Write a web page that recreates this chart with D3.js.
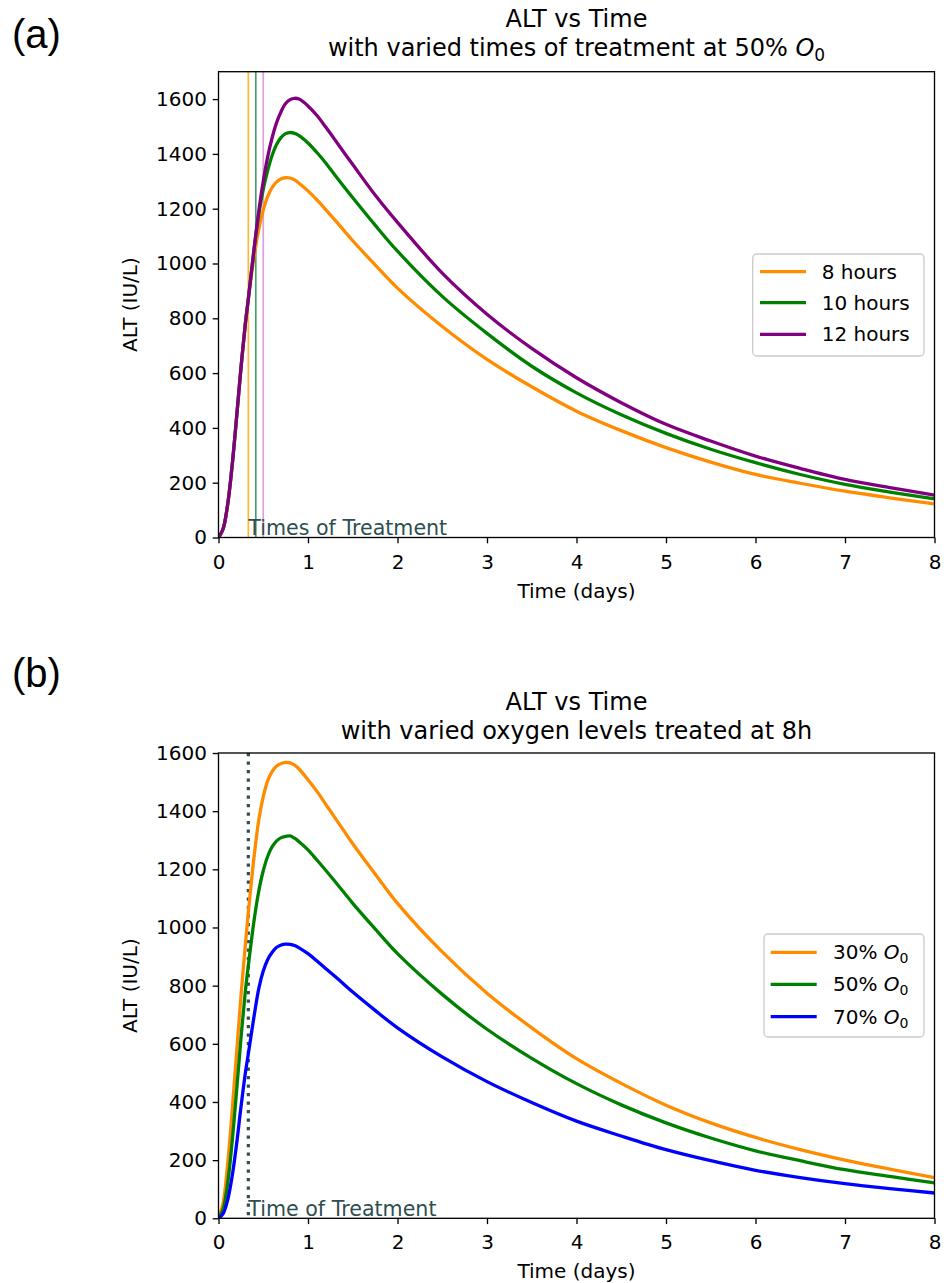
<!DOCTYPE html>
<html><head><meta charset="utf-8">
<script src="https://cdn.jsdelivr.net/npm/d3@7"></script>
<style>
body{margin:0;background:#fff}
svg{display:block;background:#fff}
text{font-family:"DejaVu Sans",sans-serif;fill:#000}
</style>
</head><body>
<svg id="chart" width="949" height="1283"></svg>
<script>
// ---------- data ----------
const times = [0,0.05,0.1,0.15,0.2,0.25,0.3,0.333,0.4,0.45,0.5,0.55,0.6,0.65,0.7,0.75,0.8,0.85,0.9,1.0,1.1,1.2,1.3,1.4,1.5,1.75,2,2.5,3,3.5,4,4.5,5,5.5,6,6.5,7,7.5,8];
const xTicks = [0,1,2,3,4,5,6,7,8];
const yTicks = [0,200,400,600,800,1000,1200,1400,1600];

// panel (a): treatment at 8, 10, 12 hours, 50% O0
const alt8h  = [0,30,115,255,430,615,780,870,1030,1125,1195,1245,1278,1298,1309,1313,1312,1305,1293,1265,1232,1196,1159,1121,1083,995,910,770,650,550,461,390,328,275,230,198,169,145,123];
const alt10h = [0,30,115,255,430,615,780,870,1060,1180,1270,1340,1395,1435,1460,1474,1478,1475,1467,1440,1405,1366,1323,1281,1240,1140,1045,880,745,625,528,448,380,322,273,230,194,166,141];
const alt12h = [0,30,115,255,430,615,780,870,1060,1190,1300,1390,1460,1515,1555,1584,1598,1603,1600,1575,1540,1497,1452,1406,1361,1250,1150,965,815,690,583,492,413,352,297,252,212,182,155];

// panel (b): treated at 8h, oxygen 30/50/70%
const alt30 = [0,50,180,360,560,760,940,1050,1250,1370,1450,1505,1537,1555,1564,1568,1566,1558,1545,1508,1468,1423,1378,1333,1288,1184,1083,916,774,655,549,464,389,328,278,236,200,169,140];
const alt50 = [0,30,115,255,430,615,780,868,1030,1125,1195,1245,1278,1298,1309,1313,1315,1307,1295,1267,1232,1196,1159,1121,1083,995,910,770,650,550,463,390,328,276,232,198,167,144,122];
const alt70 = [0,15,60,140,250,380,500,565,700,790,850,890,915,932,940,943,942,938,930,910,885,858,832,805,778,715,655,555,470,398,334,283,236,198,165,140,119,102,87];

const treatTimesA = [8/24, 10/24, 12/24];
const treatTimeB = 8/24;
const labelsA = ["8 hours","10 hours","12 hours"];
const labelsB = ["30%","50%","70%"];

// ---------- drawing ----------
const svg = d3.select("#chart");
const L = 218.5, R = 934.5;
const FS = 20, TFS = 24, AFS = 20.6;

function drawPanel(cfg){
  const x = d3.scaleLinear().domain([0,8]).range([L,R]);
  const y = d3.scaleLinear().domain([0,cfg.ymax]).range([cfg.bottom,cfg.top]);
  const g = svg.append("g");

  // panel letter
  g.append("text").attr("x",12).attr("y",cfg.letterY)
    .style("font-family","'Liberation Sans',Arial,sans-serif").style("font-size","40px")
    .text(cfg.letter);

  // title
  g.append("text").attr("x",(L+R)/2).attr("y",cfg.top-cfg.t1).attr("text-anchor","middle")
    .style("font-size",TFS+"px").text("ALT vs Time");
  const t2 = g.append("text").attr("x",(L+R)/2).attr("y",cfg.top-cfg.t2).attr("text-anchor","middle")
    .style("font-size",TFS+"px");
  t2.append("tspan").text(cfg.subtitle);
  if(cfg.subO){
    t2.append("tspan").style("font-style","italic").text("O");
    t2.append("tspan").attr("dy",5).style("font-size","17px").text("0");
  }

  // clip
  const cid = "clip"+cfg.letter.replace(/[()]/g,"");
  svg.append("clipPath").attr("id",cid).append("rect")
    .attr("x",L).attr("y",cfg.top).attr("width",R-L).attr("height",cfg.bottom-cfg.top);

  const plot = g.append("g").attr("clip-path",`url(#${cid})`);

  // treatment lines
  cfg.vlines.forEach(v=>{
    plot.append("line").attr("x1",x(v.t)).attr("x2",x(v.t)).attr("y1",cfg.top).attr("y2",cfg.bottom)
      .attr("stroke",v.color).attr("stroke-width",v.width)
      .attr("stroke-dasharray",v.dash||null);
  });

  // curves
  const line = d3.line().x((d,i)=>x(times[i])).y(d=>y(d)).curve(d3.curveCatmullRom.alpha(0.5));
  cfg.series.forEach(s=>{
    plot.append("path").datum(s.values).attr("d",line)
      .attr("fill","none").attr("stroke",s.color).attr("stroke-width",3.3)
      .attr("stroke-linejoin","round");
  });

  // annotation text
  g.append("text").attr("x",x(treatTimesA[0])).attr("y",cfg.bottom-2.5)
    .style("font-size",AFS+"px").style("fill","#2F4F4F").text(cfg.annot);

  // axes
  const xa = g.append("g").attr("transform",`translate(0,${cfg.bottom})`)
    .call(d3.axisBottom(x).tickValues(xTicks).tickFormat(d3.format("d")).tickSize(5.8).tickPadding(11.2));
  const ya = g.append("g").attr("transform",`translate(${L},0)`)
    .call(d3.axisLeft(y).tickValues(yTicks).tickFormat(d3.format("d")).tickSize(5.8).tickPadding(5.7));
  [xa,ya].forEach(a=>{
    a.select(".domain").remove();
    a.selectAll("line").attr("stroke","#000").attr("stroke-width",1.33);
    a.selectAll("text").style("font-size",FS+"px").style("font-family","'DejaVu Sans',sans-serif").attr("fill","#000");
  });

  // spines
  g.append("rect").attr("x",L).attr("y",cfg.top).attr("width",R-L).attr("height",cfg.bottom-cfg.top)
    .attr("fill","none").attr("stroke","#000").attr("stroke-width",1.33);

  // axis labels
  g.append("text").attr("x",(L+R)/2).attr("y",cfg.bottom+60).attr("text-anchor","middle")
    .style("font-size",FS+"px").text("Time (days)");
  g.append("text").attr("transform",`translate(137,${(cfg.top+cfg.bottom)/2}) rotate(-90)`)
    .attr("text-anchor","middle").style("font-size",FS+"px").text("ALT (IU/L)");

  // legend
  const lg = cfg.legend;
  g.append("rect").attr("x",lg.x0).attr("y",lg.y0).attr("width",lg.x1-lg.x0).attr("height",lg.y1-lg.y0)
    .attr("rx",4).attr("fill","#fff").attr("fill-opacity",0.8).attr("stroke","#cccccc").attr("stroke-width",1.33);
  cfg.series.forEach((s,i)=>{
    const yy = lg.rows[i];
    g.append("line").attr("x1",lg.lx0).attr("x2",lg.lx1).attr("y1",yy).attr("y2",yy)
      .attr("stroke",s.color).attr("stroke-width",3.3);
    const tx = g.append("text").attr("x",lg.tx).attr("y",yy+7).style("font-size",FS+"px");
    tx.append("tspan").text(s.label);
    if(cfg.legendO){
      tx.append("tspan").text(" ");
      tx.append("tspan").style("font-style","italic").text("O");
      tx.append("tspan").attr("dy",4).style("font-size","14px").text("0");
    }
  });
}

drawPanel({
  letter:"(a)", letterY:48, top:71.7, bottom:537.5, ymax:1700, t1:45, t2:16,
  subtitle:"with varied times of treatment at 50% ", subO:true,
  annot:"Times of Treatment",
  vlines:[
    {t:treatTimesA[0], color:"#ffb833", width:1.7},
    {t:treatTimesA[1], color:"#4f9a72", width:1.7},
    {t:treatTimesA[2], color:"#dda0dd", width:1.7}
  ],
  series:[
    {values:alt8h, color:"#ff8c00", label:labelsA[0]},
    {values:alt10h, color:"#008000", label:labelsA[1]},
    {values:alt12h, color:"#800080", label:labelsA[2]}
  ],
  legend:{x0:752.7,x1:924,y0:254,y1:356,lx0:760,lx1:806,tx:821.7,rows:[271.7,302.7,334.3]},
  legendO:false
});

drawPanel({
  letter:"(b)", letterY:687, top:753, bottom:1218.3, ymax:1600, t1:43, t2:14,
  subtitle:"with varied oxygen levels treated at 8h", subO:false,
  annot:"Time of Treatment",
  vlines:[
    {t:treatTimeB, color:"#2F4F4F", width:3.2, dash:"3.2,5.3"}
  ],
  series:[
    {values:alt30, color:"#ff8c00", label:labelsB[0]},
    {values:alt50, color:"#008000", label:labelsB[1]},
    {values:alt70, color:"#0000ff", label:labelsB[2]}
  ],
  legend:{x0:764,x1:924,y0:934,y1:1037,lx0:770.7,lx1:816.7,tx:833,rows:[952.3,984.3,1016.7]},
  legendO:true
});
</script>
</body></html>
